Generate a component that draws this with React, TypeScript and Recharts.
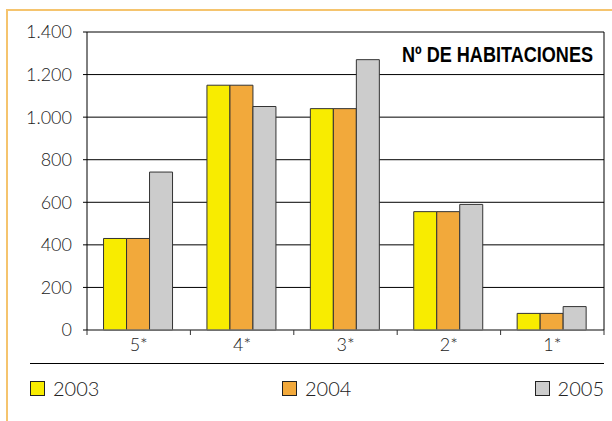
import React from 'react';
import { BarChart, Bar, XAxis, YAxis, CartesianGrid } from 'recharts';

const categories = ['5*', '4*', '3*', '2*', '1*'];
const values2003 = [430, 1150, 1040, 556, 78];
const values2004 = [430, 1150, 1040, 556, 78];
const values2005 = [742, 1050, 1270, 590, 110];
const yTicks = [0, 200, 400, 600, 800, 1000, 1200, 1400];

const series = [
  { key: 'y2003', label: '2003', color: '#F8EC00' },
  { key: 'y2004', label: '2004', color: '#F2A93B' },
  { key: 'y2005', label: '2005', color: '#CCCCCC' },
];

const data = categories.map((c, i) => ({
  cat: c,
  y2003: values2003[i],
  y2004: values2004[i],
  y2005: values2005[i],
}));

const FONT = "Lato, 'Open Sans', sans-serif";

const fmt = (v: number) => v.toString().replace(/\B(?=(\d{3})+(?!\d))/g, '.');

const XTick = (props: any) => {
  const { x, y, payload, index, width } = props;
  const bw = (width || 517) / categories.length;
  const left = x - bw / 2;
  return (
    <g>
      <line x1={left} x2={left} y1={y} y2={y + 5} stroke="#333" />
      {index === categories.length - 1 && (
        <line x1={x + bw / 2} x2={x + bw / 2} y1={y} y2={y + 5} stroke="#333" />
      )}
      <text x={x} y={y + 21} textAnchor="middle" fontSize={18} fontWeight={300} fontFamily={FONT} fill="#222">
        {payload.value}
      </text>
    </g>
  );
};

export default function App() {
  return (
    <div
      style={{
        position: 'fixed',
        left: 0,
        top: 0,
        width: 612,
        height: 421,
        background: '#fff',
        overflow: 'hidden',
      }}
    >
      <div style={{ position: 'absolute', left: 6, top: 9, width: 620, height: 2, background: '#F5C46E' }} />
      <div style={{ position: 'absolute', left: 6, top: 9, width: 2, height: 420, background: '#F5C46E' }} />

      <div style={{ position: 'absolute', left: 0, top: 0 }}>
        <BarChart
          width={612}
          height={370}
          data={data}
          margin={{ top: 32, right: 0, left: 0, bottom: 10 }}
          barCategoryGap="16%"
          barGap={0}
        >
          <CartesianGrid vertical={false} stroke="#000" />
          <XAxis
            dataKey="cat"
            height={30}
            axisLine={{ stroke: '#888' }}
            tickLine={false}
            tickSize={0}
            tickMargin={0}
            tick={<XTick />}
            interval={0}
          />
          <YAxis
            width={87}
            domain={[0, 1400]}
            ticks={yTicks}
            interval={0}
            tickFormatter={fmt}
            axisLine={{ stroke: '#000' }}
            tickLine={{ stroke: '#000' }}
            tickSize={4}
            tickMargin={11}
            tick={{ fontSize: 18, fontWeight: 300, fontFamily: FONT, fill: '#222' }}
          />
          <YAxis
            yAxisId="r"
            orientation="right"
            width={8}
            tick={false}
            tickLine={false}
            axisLine={{ stroke: '#000' }}
          />
          {series.map((s) => (
            <Bar
              key={s.key}
              dataKey={s.key}
              fill={s.color}
              stroke="#333"
              strokeWidth={1}
              isAnimationActive={false}
            />
          ))}
          <text
            x={593}
            y={62}
            textAnchor="end"
            textLength={191}
            lengthAdjust="spacingAndGlyphs"
            fontFamily="'Liberation Sans', Arial, sans-serif"
            fontWeight="bold"
            fontSize={22}
            fill="#000"
          >
            Nº DE HABITACIONES
          </text>
        </BarChart>
      </div>

      <div style={{ position: 'absolute', left: 30, top: 363, width: 574, height: 1, background: '#000' }} />

      {series.map((s, i) => {
        const pos: React.CSSProperties =
          i === 0 ? { left: 30 } : i === 1 ? { left: 282 } : { right: 8 };
        return (
          <div
            key={s.key}
            style={{
              position: 'absolute',
              top: 376,
              ...pos,
              display: 'flex',
              alignItems: 'center',
              fontFamily: FONT,
              fontWeight: 300,
              fontSize: 20,
              color: '#222',
            }}
          >
            <span
              style={{
                display: 'inline-block',
                width: 13,
                height: 13,
                background: s.color,
                border: '1px solid #222',
                marginRight: 8,
              }}
            />
            {s.label}
          </div>
        );
      })}
    </div>
  );
}
